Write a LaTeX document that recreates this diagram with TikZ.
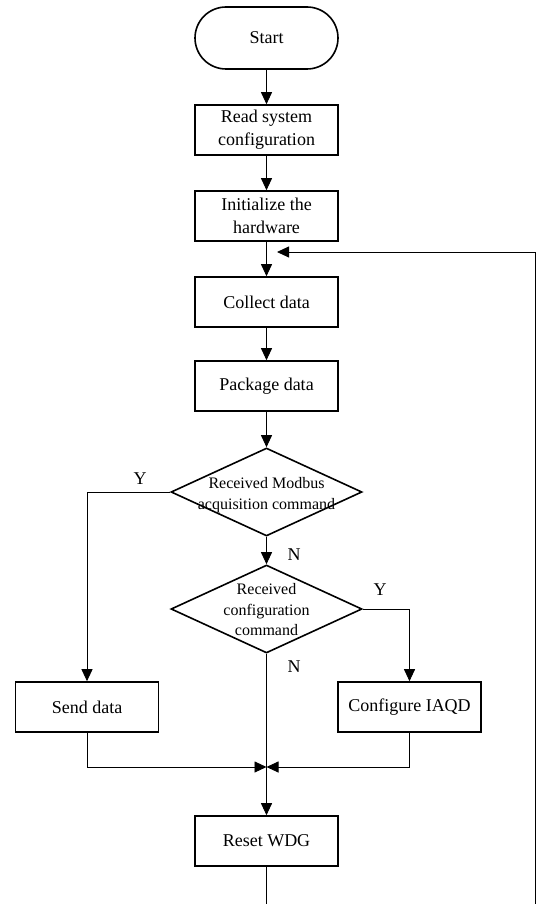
\documentclass[tikz,border=0pt]{standalone}
\usepackage{fontspec}
\setmainfont{Liberation Serif}
\usetikzlibrary{arrows.meta,shapes.geometric}
\begin{document}
\begin{tikzpicture}[x=1pt,y=-1pt,
  box/.style={draw,line width=1.6pt,minimum width=143pt,minimum height=50pt,inner sep=0pt,align=center,font=\fontsize{18}{23}\selectfont},
  startbox/.style={box,minimum height=62pt,rounded corners=31pt},
  dia/.style={draw,diamond,line width=1.6pt,minimum width=191pt,minimum height=88pt,inner sep=0pt},
  dtext/.style={align=center,inner sep=0pt,font=\fontsize{16}{20.5}\selectfont},
  conn/.style={line width=0.9pt,-{Triangle[length=12pt,width=11pt]}},
  plain/.style={line width=0.9pt},
  lbl/.style={inner sep=0pt,font=\fontsize{18}{22}\selectfont}]
\useasboundingbox (0,0) rectangle (538,904);
\node[startbox] (start) at (266.5,38) {Start};
\node[box] (read) at (266.5,130) {Read system\\configuration};
\node[box] (init) at (266.5,216) {Initialize the\\hardware};
\node[box] (collect) at (266.5,302) {Collect data};
\node[box] (package) at (266.5,386) {Package data};
\node[dia] (d1) at (266.5,492) {};
\node[dtext] (d1t) at (266.5,495) {Received Modbus\\acquisition command};
\node[dia] (d2) at (266.5,609) {};
\node[dtext] (d2t) at (266.5,610) {Received\\configuration\\command};
\node[box] (send) at (87,707) {Send data};
\node[box] (conf) at (409.5,707) {Configure IAQD};
\node[box] (reset) at (266.5,841) {Reset WDG};
\coordinate (merge) at (266.5,767);
\coordinate (bottom) at (266.5,904);
\coordinate (fbbot) at (535,904);
\coordinate (fbtop) at (535,252);
\coordinate (fbtip) at (277,252);
\node[lbl] (y1) at (140,479) {Y};
\node[lbl] (n1) at (294,555) {N};
\node[lbl] (y2) at (380,590) {Y};
\node[lbl] (n2) at (294,667) {N};
\draw[conn] (start) -- (read);
\draw[conn] (read) -- (init);
\draw[conn] (init) -- (collect);
\draw[conn] (collect) -- (package);
\draw[conn] (package) -- (d1);
\draw[conn] (d1.south) -- (d2.north);
\draw[conn] (d1.west) -| (send.north);
\draw[conn] (d2.east) -| (conf.north);
\draw[conn] (d2.south) -- (reset.north);
\draw[conn] (send.south) |- (merge);
\draw[conn] (conf.south) |- (merge);
\draw[plain] (reset.south) -- (bottom);
\draw[conn] (fbbot) -- (fbtop) -- (fbtip);
\end{tikzpicture}
\end{document}
